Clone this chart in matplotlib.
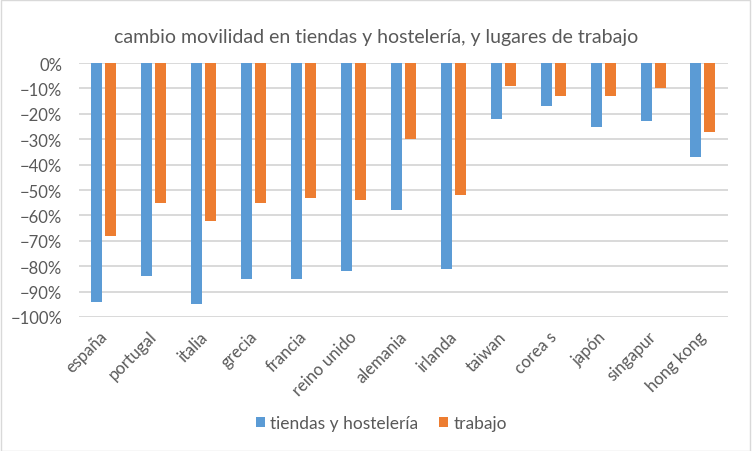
import numpy as np
import matplotlib.pyplot as plt
import matplotlib.transforms as mtransforms
from matplotlib.ticker import PercentFormatter
from matplotlib.patches import Rectangle

paises = ['españa', 'portugal', 'italia', 'grecia', 'francia', 'reino unido',
          'alemania', 'irlanda', 'taiwan', 'corea s', 'japón', 'singapur', 'hong kong']
tiendas = [-94, -84, -95, -85, -85, -82, -58, -81, -22, -17, -25, -23, -37]
trabajo = [-68, -55, -62, -55, -53, -54, -30, -52, -9, -13, -13, -10, -27]

plt.rcParams['font.family'] = ['Lato', 'DejaVu Sans']

fig = plt.figure(figsize=(7.52, 4.52), dpi=100)
ax = fig.add_axes([0.105, 0.2965, 0.863, 0.5617])

x = np.arange(len(paises))
w = 0.22
ax.bar(x - 0.14, tiendas, w, color='#5B9BD5', label='tiendas y hostelería', zorder=3)
ax.bar(x + 0.14, trabajo, w, color='#ED7D31', label='trabajo', zorder=3)

ax.set_xlim(-0.5, len(paises) - 0.5)
ax.set_ylim(-100, 0)
ax.set_yticks(np.arange(-100, 1, 10))
ax.yaxis.set_major_formatter(PercentFormatter(decimals=0))
ax.grid(axis='y', color='#d9d9d9', lw=1.4, zorder=0)
for s in ax.spines.values():
    s.set_visible(False)
ax.tick_params(length=0, colors='#595959', labelsize=12)
ax.tick_params(axis='y', pad=12)
ax.set_xticks(x)
ax.set_xticklabels(paises, rotation=45, ha='right', rotation_mode='anchor')
ax.tick_params(axis='x', pad=8)
# corrimiento a la izquierda de las etiquetas
shift = mtransforms.ScaledTranslation(-5 / 100, 0, fig.dpi_scale_trans)
for lbl in ax.get_xticklabels():
    lbl.set_transform(lbl.get_transform() + shift)

fig.suptitle('cambio movilidad en tiendas y hostelería, y lugares de trabajo',
             y=0.935, fontsize=14, color='#595959')
fig.legend(loc='center', bbox_to_anchor=(0.507, 0.062), ncol=2, frameon=False,
           fontsize=12.5, labelcolor='#595959', handlelength=0.52, handleheight=0.52,
           handletextpad=0.3, columnspacing=1.2)

fig.patches.append(Rectangle((0.001, 0.001), 0.997, 0.997, transform=fig.transFigure,
                             fill=False, edgecolor='#d9d9d9', lw=1))

fig.savefig('out.png', dpi=100)
